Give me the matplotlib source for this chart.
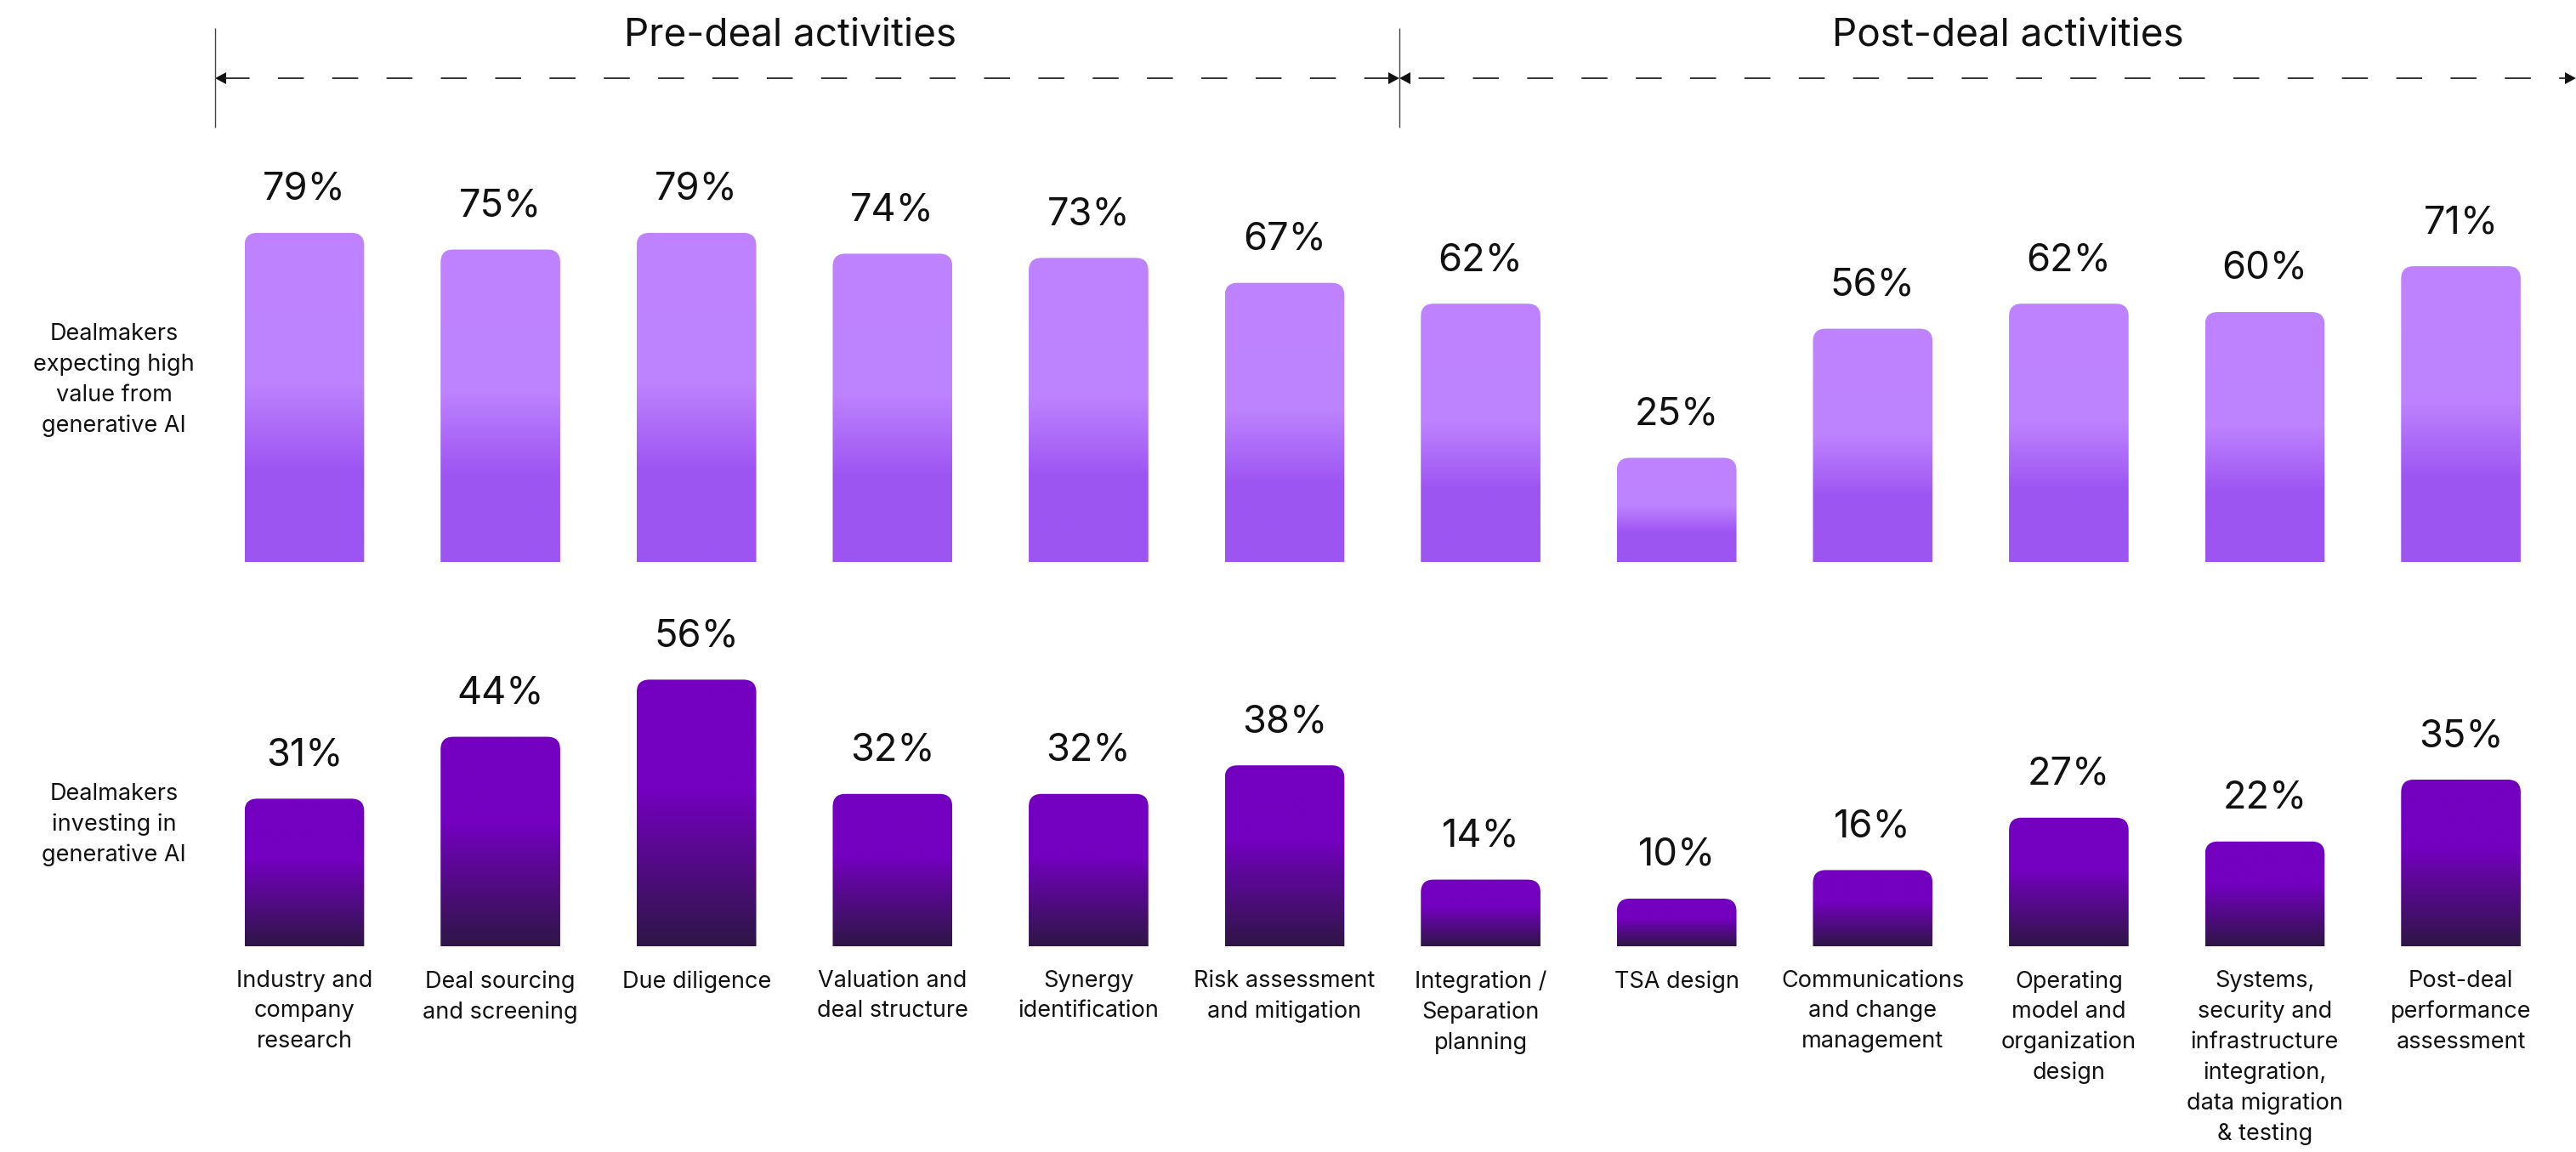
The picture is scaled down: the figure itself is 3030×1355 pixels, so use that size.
import matplotlib
matplotlib.use("Agg")
import matplotlib.pyplot as plt
import numpy as np
from matplotlib.path import Path
from matplotlib.patches import PathPatch, Polygon
from matplotlib.colors import to_rgba

# ---------------- data ----------------
categories = [
    "Industry and\ncompany\nresearch",
    "Deal sourcing\nand screening",
    "Due diligence",
    "Valuation and\ndeal structure",
    "Synergy\nidentification",
    "Risk assessment\nand mitigation",
    "Integration /\nSeparation\nplanning",
    "TSA design",
    "Communications\nand change\nmanagement",
    "Operating\nmodel and\norganization\ndesign",
    "Systems,\nsecurity and\ninfrastructure\nintegration,\ndata migration\n& testing",
    "Post-deal\nperformance\nassessment",
]
expecting_value = [79, 75, 79, 74, 73, 67, 62, 25, 56, 62, 60, 71]
investing = [31, 44, 56, 32, 32, 38, 14, 10, 16, 27, 22, 35]
row_labels = [
    "Dealmakers\nexpecting high\nvalue from\ngenerative AI",
    "Dealmakers\ninvesting in\ngenerative AI",
]
phases = ["Pre-deal activities", "Post-deal activities"]

# ---------------- layout (pixels) ----------------
W, H = 3030, 1355
X0_PX, STEP_PX = 358, 230.6        # first bar center, bar spacing
BAR_W = 0.61                      # in category units
TOP_BASE, TOP_SCALE = 661, 4.9    # baseline px, px per %
BOT_BASE, BOT_SCALE = 1113, 5.6
RADIUS_PX = 15

plt.rcParams["font.family"] = ["Inter", "DejaVu Sans"]
plt.rcParams["lines.scale_dashes"] = False
TXT = "#111111"
SMALL = 19.5
LS = 1.47

fig = plt.figure(figsize=(W / 100, H / 100), dpi=100)
xlim = (-X0_PX / STEP_PX, (W - X0_PX) / STEP_PX)

ax1 = fig.add_axes([0, (H - TOP_BASE) / H, 1, TOP_BASE / H])
ax2 = fig.add_axes([0, (H - BOT_BASE) / H, 1, (BOT_BASE - TOP_BASE) / H])


def gradient_array(stops, n=400):
    ts = np.linspace(0, 1, n)
    ps = [s[0] for s in stops]
    cols = np.array([to_rgba(s[1]) for s in stops])
    arr = np.zeros((n, 1, 4))
    for k in range(4):
        arr[:, 0, k] = np.interp(ts, ps, cols[:, k])
    return arr


def rounded_bar(ax, x, h, width, px_x, px_y, stops):
    x0, x1 = x - width / 2, x + width / 2
    rx, ry = RADIUS_PX / px_x, RADIUS_PX / px_y
    verts = [(x0, 0), (x0, h - ry), (x0, h), (x0 + rx, h), (x1 - rx, h),
             (x1, h), (x1, h - ry), (x1, 0), (x0, 0)]
    codes = [Path.MOVETO, Path.LINETO, Path.CURVE3, Path.CURVE3, Path.LINETO,
             Path.CURVE3, Path.CURVE3, Path.LINETO, Path.CLOSEPOLY]
    patch = PathPatch(Path(verts, codes), facecolor="none", edgecolor="none")
    ax.add_patch(patch)
    im = ax.imshow(gradient_array(stops), extent=(x0, x1, 0, h), origin="upper",
                   aspect="auto", interpolation="bilinear", zorder=2)
    im.set_clip_path(patch)


top_stops = [(0.0, "#BF83FF"), (0.46, "#BD82FE"), (0.72, "#9D55F2"), (1.0, "#9D55F2")]
bot_stops = [(0.0, "#7400C0"), (0.41, "#7400C0"), (1.0, "#2E1646")]

xs = np.arange(len(categories))
for i, v in zip(xs, expecting_value):
    rounded_bar(ax1, i, v, BAR_W, STEP_PX, TOP_SCALE, top_stops)
    ax1.annotate(f"{v}%", xy=(i, v), xytext=(0, 39), textcoords="offset pixels",
                 ha="center", va="baseline", fontsize=32.5, color=TXT)
for i, v in zip(xs, investing):
    rounded_bar(ax2, i, v, BAR_W, STEP_PX, BOT_SCALE, bot_stops)
    ax2.annotate(f"{v}%", xy=(i, v), xytext=(0, 39), textcoords="offset pixels",
                 ha="center", va="baseline", fontsize=32.5, color=TXT)
    ax2.annotate(categories[i], xy=(i, 0), xytext=(0, -28), textcoords="offset pixels",
                 ha="center", va="top", fontsize=SMALL, color=TXT, linespacing=LS,
                 multialignment="center")

ax1.set_ylim(0, TOP_BASE / TOP_SCALE)
ax2.set_ylim(0, (BOT_BASE - TOP_BASE) / BOT_SCALE)
for ax in (ax1, ax2):
    ax.set_xlim(*xlim)
    ax.axis("off")

# row labels
fig.text(134 / W, 1 - 447 / H, row_labels[0], ha="center", va="center",
         fontsize=SMALL, color=TXT, linespacing=LS, multialignment="center")
fig.text(134 / W, 1 - 970 / H, row_labels[1], ha="center", va="center",
         fontsize=SMALL, color=TXT, linespacing=LS, multialignment="center")

# header overlay in pixel coordinates
axh = fig.add_axes([0, 0, 1, 1], zorder=5)
axh.set_xlim(0, W)
axh.set_ylim(H, 0)
axh.axis("off")
axh.patch.set_alpha(0)

LEFT, MID, RIGHT = 253, 1646, 3030
Y_ARROW = 92
for xv in (LEFT, MID):
    axh.plot([xv, xv], [33, 150], color="#444444", lw=1.0, solid_capstyle="butt")
axh.plot([LEFT + 10, RIGHT - 10], [Y_ARROW, Y_ARROW], color="#222222", lw=1.3,
         linestyle=(0, (22, 24)))


def head(tip, direction):
    L, hw = 13, 7
    pts = [(tip, Y_ARROW), (tip - direction * L, Y_ARROW - hw), (tip - direction * L, Y_ARROW + hw)]
    axh.add_patch(Polygon(pts, closed=True, color="#111111", lw=0))


head(LEFT, -1)
head(MID, 1)
head(MID, -1)
head(RIGHT, 1)

axh.text(929, 53, phases[0], ha="center", va="baseline", fontsize=33, color=TXT)
axh.text(2362, 53, phases[1], ha="center", va="baseline", fontsize=33, color=TXT)

fig.savefig("out.png", dpi=100, facecolor="white")
